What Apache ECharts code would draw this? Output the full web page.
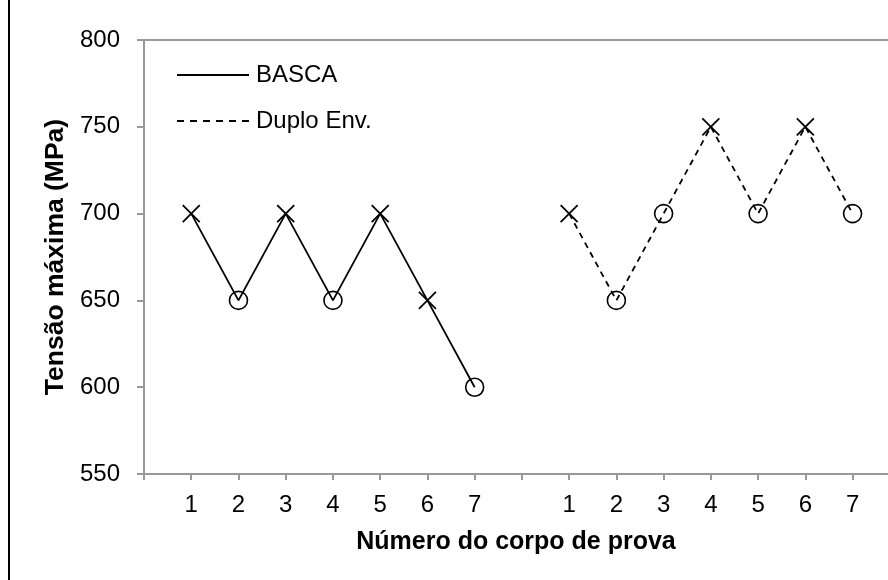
<!DOCTYPE html>
<html>
<head>
<meta charset="utf-8">
<script src="https://cdn.jsdelivr.net/npm/echarts@6/dist/echarts.min.js"></script>
<style>
  html, body { margin: 0; padding: 0; background: #fff; }
  #chart { width: 888px; height: 580px; }
</style>
</head>
<body>
<div id="chart"></div>
<script>
// ---- data ----
const categories = ['', '1', '2', '3', '4', '5', '6', '7', '', '1', '2', '3', '4', '5', '6', '7'];
const yTicks = [550, 600, 650, 700, 750, 800];
const bascaName = 'BASCA';
const bascaStart = 1;
const bascaValues = [700, 650, 700, 650, 700, 650, 600];
const bascaMarkers = ['x', 'o', 'x', 'o', 'x', 'x', 'o'];
const duploName = 'Duplo Env.';
const duploStart = 9;
const duploValues = [700, 650, 700, 750, 700, 750, 700];
const duploMarkers = ['x', 'o', 'o', 'x', 'o', 'x', 'o'];
const xTitle = 'Número do corpo de prova';
const yTitle = 'Tensão máxima (MPa)';

// ---- build ----
const FONT = '"Liberation Sans", Arial, sans-serif';
const X_PATH = 'path://M0,0L1,1M1,0L0,1';
const xMax = 15.75; // visible span of the category axis (cut at right edge)
const tickPositions = categories.map((c, i) => i);
const labelPositions = categories.map((c, i) => i).filter(i => categories[i] !== '');
function buildData(start, values, markers) {
  return values.map((v, i) => {
    const isX = markers[i] === 'x';
    return {
      value: [start + i, v],
      symbol: isX ? X_PATH : 'circle',
      symbolSize: isX ? 17 : 18,
      itemStyle: { color: 'rgba(0,0,0,0)', borderColor: '#000', borderWidth: isX ? 1.8 : 1.6 }
    };
  });
}
const dashIcon = 'path://M0,0h7v2h-7zM13,0h7v2h-7zM26,0h7v2h-7zM39,0h7v2h-7zM52,0h7v2h-7zM65,0h7v2h-7z';

const chart = echarts.init(document.getElementById('chart'), null, { renderer: 'canvas' });
chart.setOption({
  animation: false,
  backgroundColor: '#fff',
  textStyle: { fontFamily: FONT },
  grid: { left: 144, top: 40, right: 0, bottom: 106, containLabel: false },
  legend: {
    orient: 'vertical',
    left: 172,
    top: 58,
    itemWidth: 72,
    itemHeight: 2,
    itemGap: 22,
    selectedMode: false,
    data: [
      { name: bascaName, icon: 'rect' },
      { name: duploName, icon: dashIcon }
    ],
    textStyle: { fontSize: 24, color: '#000', fontFamily: FONT, padding: [0, 0, 0, 2] }
  },
  xAxis: [{
    type: 'value',
    min: 0,
    max: xMax,
    name: xTitle,
    nameLocation: 'middle',
    nameGap: 56,
    nameTextStyle: { fontSize: 25, fontWeight: 'bold', color: '#000', fontFamily: FONT },
    axisLine: { onZero: false, lineStyle: { color: '#999', width: 2 } },
    axisTick: { show: true, customValues: tickPositions, length: 6, lineStyle: { color: '#999', width: 2 } },
    axisLabel: {
      customValues: labelPositions,
      formatter: v => categories[Math.round(v)] || '',
      margin: 19, fontSize: 24, color: '#000', fontFamily: FONT
    },
    splitLine: { show: false }
  }, {
    type: 'value',
    min: 0,
    max: xMax,
    position: 'top',
    axisLine: { show: true, onZero: false, lineStyle: { color: '#999', width: 2 } },
    axisTick: { show: false },
    axisLabel: { show: false },
    splitLine: { show: false }
  }],
  yAxis: {
    type: 'value',
    min: yTicks[0],
    max: yTicks[yTicks.length - 1],
    interval: 50,
    name: yTitle,
    nameLocation: 'middle',
    nameGap: 74,
    nameTextStyle: { fontSize: 26.5, fontWeight: 'bold', color: '#000', fontFamily: FONT },
    axisLine: { show: true, onZero: false, lineStyle: { color: '#999', width: 2 } },
    axisTick: { show: true, length: 7, lineStyle: { color: '#999', width: 2 } },
    axisLabel: { margin: 24, fontSize: 24, color: '#000', fontFamily: FONT },
    splitLine: { show: false }
  },
  series: [{
    name: bascaName,
    type: 'line',
    xAxisIndex: 0,
    data: buildData(bascaStart, bascaValues, bascaMarkers),
    itemStyle: { color: '#000' },
    lineStyle: { color: '#000', width: 1.8, type: 'solid' },
    showAllSymbol: true,
    silent: true
  }, {
    name: duploName,
    type: 'line',
    xAxisIndex: 0,
    data: buildData(duploStart, duploValues, duploMarkers),
    itemStyle: { color: '#000' },
    lineStyle: { color: '#000', width: 1.8, type: [6, 5] },
    showAllSymbol: true,
    silent: true
  }],
  graphic: [{
    type: 'line',
    shape: { x1: 9, y1: 0, x2: 9, y2: 580 },
    style: { stroke: '#000', lineWidth: 2 },
    silent: true
  }]
});
</script>
</body>
</html>
